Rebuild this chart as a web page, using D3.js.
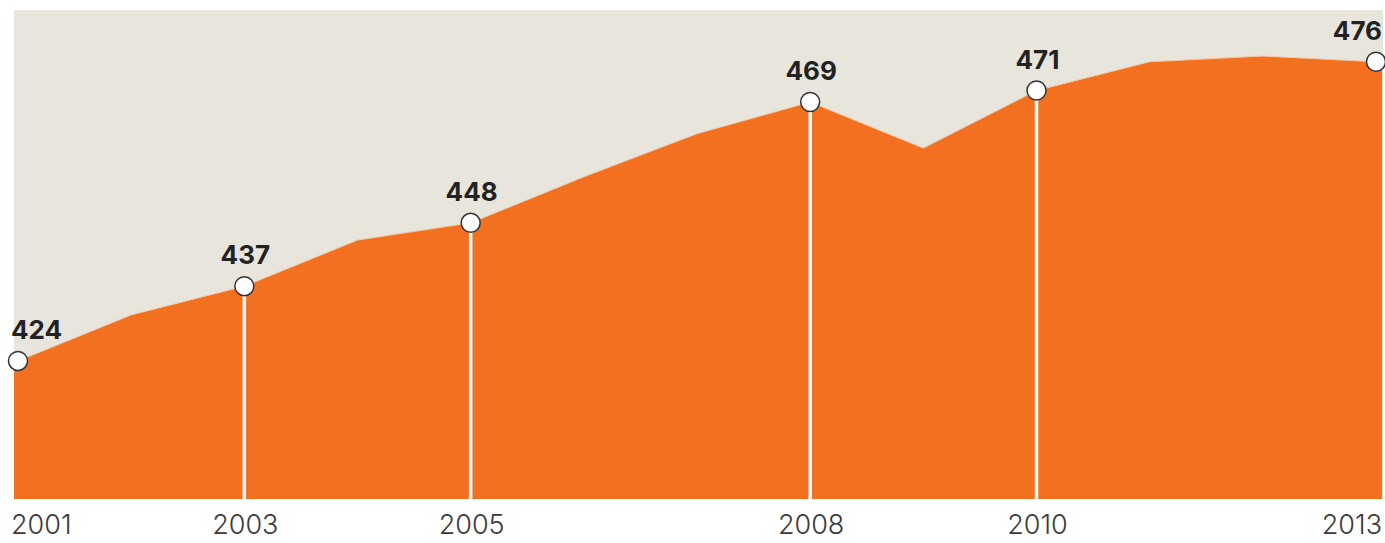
<!DOCTYPE html>
<html>
<head>
<meta charset="utf-8">
<script src="https://cdn.jsdelivr.net/npm/d3@7"></script>
<style>
  html, body { margin: 0; padding: 0; background: #fff; }
  svg text { font-family: Inter, "Noto Sans", sans-serif; }
</style>
</head>
<body>
<div id="chart"></div>
<script>
// yearly values
var years = [2001, 2002, 2003, 2004, 2005, 2006, 2007, 2008, 2009, 2010, 2011, 2012, 2013];
var values = [424, 432, 437, 445, 448, 456, 463.5, 469, 461, 471, 476, 477, 476];
// years that get a marker, a drop line and labels
var markedYears = [2001, 2003, 2005, 2008, 2010, 2013];

var width = 1385, height = 543,
    panelLeft = 14, panelTop = 10, panelBottom = 499,
    orange = '#f37021', panelColor = '#e7e5dc';

var data = years.map(function (y, i) { return { year: y, value: values[i] }; });
var marked = data.filter(function (d) { return markedYears.indexOf(d.year) >= 0; });

var x = d3.scaleLinear().domain([2001, 2013]).range([18, 1376]);
var y = d3.scaleLinear().domain([400, 485]).range([panelBottom, panelTop]);

var svg = d3.select('#chart')
  .append('svg')
  .attr('width', width)
  .attr('height', height);

// panel background
svg.append('rect')
  .attr('x', panelLeft)
  .attr('y', panelTop)
  .attr('width', width - panelLeft - 2)
  .attr('height', panelBottom - panelTop)
  .attr('fill', panelColor);

// area, extended to the panel edges
var areaData = [{ year: null, value: values[0], px: panelLeft }]
  .concat(data.map(function (d) { return { year: d.year, value: d.value, px: x(d.year) }; }))
  .concat([{ year: null, value: values[values.length - 1], px: width - 3 }]);

var area = d3.area()
  .x(function (d) { return d.px; })
  .y0(panelBottom)
  .y1(function (d) { return y(d.value); });

svg.append('path')
  .datum(areaData)
  .attr('d', area)
  .attr('fill', orange);

// thin light edge along the top of the area
svg.append('path')
  .datum(areaData)
  .attr('d', d3.line().x(function (d) { return d.px; }).y(function (d) { return y(d.value); }))
  .attr('fill', 'none')
  .attr('stroke', '#f7c9a6')
  .attr('stroke-width', 1);

// white drop lines (not on the first and last marker)
svg.selectAll('.drop')
  .data(marked.slice(1, -1))
  .enter()
  .append('line')
  .attr('class', 'drop')
  .attr('x1', function (d) { return x(d.year); })
  .attr('x2', function (d) { return x(d.year); })
  .attr('y1', function (d) { return y(d.value); })
  .attr('y2', panelBottom)
  .attr('stroke', '#fff')
  .attr('stroke-width', 3.5);

// markers
svg.selectAll('.marker')
  .data(marked)
  .enter()
  .append('circle')
  .attr('class', 'marker')
  .attr('cx', function (d) { return x(d.year); })
  .attr('cy', function (d) { return y(d.value); })
  .attr('r', 9.5)
  .attr('fill', '#fff')
  .attr('stroke', '#333')
  .attr('stroke-width', 1.5);

function anchor(d, i) {
  if (i === 0) return 'start';
  if (i === marked.length - 1) return 'end';
  return 'middle';
}
function labelX(d, i) {
  if (i === 0) return 11;
  if (i === marked.length - 1) return width - 3;
  return x(d.year) + 1;
}

// value labels
svg.selectAll('.value-label')
  .data(marked)
  .enter()
  .append('text')
  .attr('class', 'value-label')
  .attr('x', labelX)
  .attr('y', function (d) { return y(d.value) - 22; })
  .attr('text-anchor', anchor)
  .attr('font-size', 26)
  .attr('font-weight', 700)
  .attr('fill', '#222')
  .text(function (d) { return d3.format('d')(d.value); });

// year labels
svg.selectAll('.year-label')
  .data(marked)
  .enter()
  .append('text')
  .attr('class', 'year-label')
  .attr('x', labelX)
  .attr('y', 534)
  .attr('text-anchor', anchor)
  .attr('font-size', 27)
  .attr('font-weight', 300)
  .attr('fill', '#3a3a3a')
  .text(function (d) { return d.year; });
</script>
</body>
</html>
